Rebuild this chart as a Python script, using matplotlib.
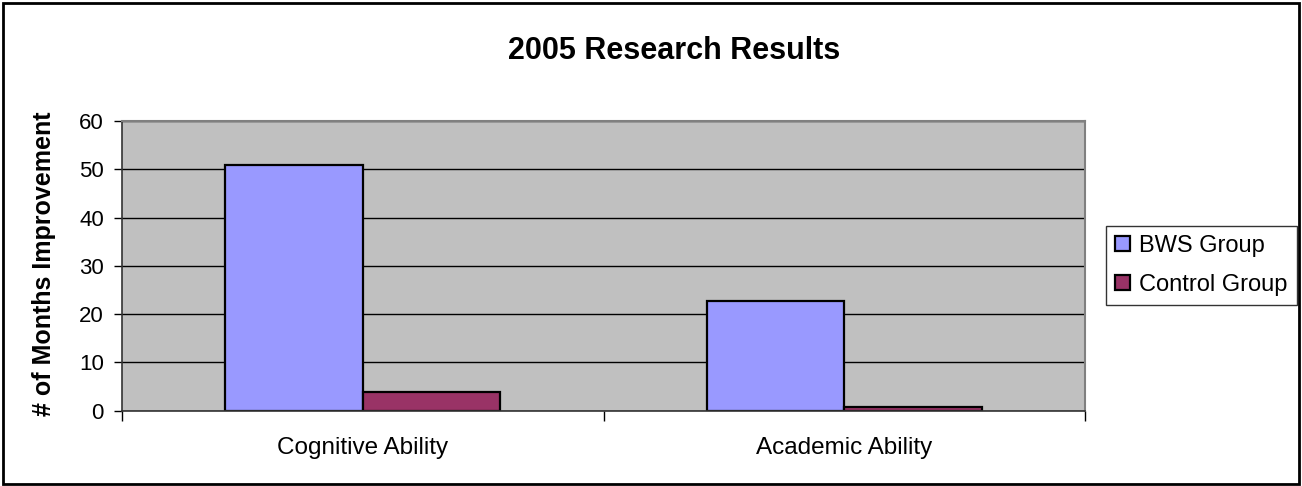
import matplotlib
matplotlib.use('Agg')
from matplotlib import pyplot as plt
from matplotlib.patches import Rectangle
import numpy as np

plt.rcParams['font.family'] = ['Liberation Sans', 'DejaVu Sans']

categories = ['Cognitive Ability', 'Academic Ability']
bws_group = [50.8, 22.8]
control_group = [3.9, 0.8]
series_names = ['BWS Group', 'Control Group']

fig = plt.figure(figsize=(13.02, 4.86), dpi=100)
ax = fig.add_axes([122 / 1302, 1 - 410.7 / 486, (1085 - 122) / 1302, (410.7 - 121) / 486])

x = np.arange(len(categories))
w = 1 / 3.5
ax.set_facecolor('#C0C0C0')
ax.set_axisbelow(True)
ax.yaxis.grid(True, color='black', linewidth=1.0)
ax.bar(x - w / 2, bws_group, w, color='#9999FF', edgecolor='black', linewidth=1.6, label=series_names[0])
ax.bar(x + w / 2, control_group, w, color='#993366', edgecolor='black', linewidth=1.6, label=series_names[1])

ax.set_xlim(-0.5, len(categories) - 0.5)
ax.set_ylim(0, 60)
ax.set_yticks(range(0, 61, 10))
ax.tick_params(axis='y', direction='out', length=6, width=1, pad=7, labelsize=16)

# major ticks on the category borders, labels on minor ticks
ax.set_xticks(np.arange(-0.5, len(categories), 1.0))
ax.set_xticklabels([])
ax.set_xticks(x, minor=True)
ax.set_xticklabels(categories, minor=True)
ax.tick_params(axis='x', which='major', direction='out', length=7, width=1)
ax.tick_params(axis='x', which='minor', length=0, pad=19, labelsize=17.5)

for side in ['top', 'right']:
    ax.spines[side].set_color('#808080')
    ax.spines[side].set_linewidth(1.5)
for side in ['left', 'bottom']:
    ax.spines[side].set_color('#333333')
    ax.spines[side].set_linewidth(1.2)

# y axis title, placed by hand like the original
fig.text(44.5 / 1302, 1 - 264 / 486, '# of Months Improvement', fontsize=18, fontweight='bold',
         rotation=90, ha='center', va='center')

fig.text(674.5 / 1302, 1 - 59 / 486, '2005 Research Results', fontsize=22, fontweight='bold',
         ha='center', va='baseline')

leg = fig.legend(loc='center left', bbox_to_anchor=(1106 / 1302, 1 - 265.5 / 486), fontsize=17,
                 frameon=True, fancybox=False, handlelength=0.6, handleheight=0.6,
                 handletextpad=0.4, labelspacing=0.7, borderpad=0.4, borderaxespad=0)
leg.get_frame().set_edgecolor('black')
leg.get_frame().set_linewidth(1.0)

# outer border of the chart
fig.patches.append(Rectangle((0.002, 0.004), 0.996, 0.99, transform=fig.transFigure,
                             fill=False, edgecolor='black', linewidth=2))

fig.savefig('out.png', dpi=100)
